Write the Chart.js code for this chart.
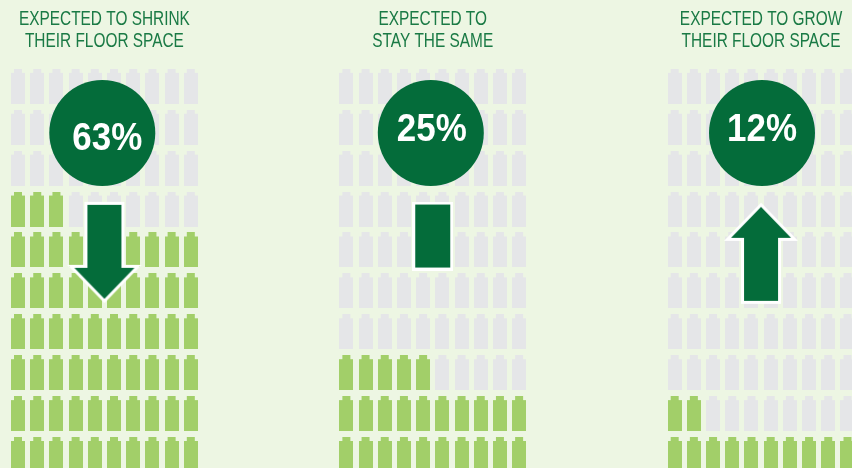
<!DOCTYPE html>
<html>
<head>
<meta charset="utf-8">
<title>Floor space expectations</title>
<script src="https://cdn.jsdelivr.net/npm/chart.js@4"></script>
<style>
  html, body { margin: 0; padding: 0; background: #edf6e3; overflow: hidden; }
  canvas { display: block; }
</style>
</head>
<body>
<canvas id="chart" width="852" height="468"></canvas>
<script>
const titles = [
  ['EXPECTED TO SHRINK', 'THEIR FLOOR SPACE'],
  ['EXPECTED TO', 'STAY THE SAME'],
  ['EXPECTED TO GROW', 'THEIR FLOOR SPACE']
];
const shares = [63, 25, 12];
const trends = ['down', 'flat', 'up'];

const COLUMNS = 10;
const ROWS = 10;
const PANEL_STEP = 17.1;   // columns from one block of icons to the next
const CIRCLE_COL = [4.39, 4.4, 4.55];
const CIRCLE_ROW = 7.86;
const LABEL_NUDGE = [[5, 3], [1, -6], [0, -6]];
const ARROW_ROW = { down: 4.93, flat: 5.34, up: 4.93 };

const DARK = '#046c3a';
const LIGHT = '#a2cf69';
const EMPTY = '#e5e6e8';
const TEXT = '#1a7a45';

function icon(color) {
  const c = document.createElement('canvas');
  c.width = 14;
  c.height = 35;
  const g = c.getContext('2d');
  g.fillStyle = color;
  g.fillRect(3, 0, 8, 4);
  g.fillRect(0, 4, 14, 31);
  return c;
}

function arrow(kind) {
  const c = document.createElement('canvas');
  const g = c.getContext('2d');
  let pts;
  if (kind === 'flat') {
    c.width = 41;
    c.height = 69;
    pts = [[3, 3], [38, 3], [38, 66], [3, 66]];
  } else {
    c.width = 76;
    c.height = 104;
    pts = [[21, 4], [55, 4], [55, 67], [68, 67], [38, 98], [8, 67], [21, 67]];
    if (kind === 'up') pts = pts.map(p => [p[0], 104 - p[1]]);
  }
  g.beginPath();
  pts.forEach((p, i) => i ? g.lineTo(p[0], p[1]) : g.moveTo(p[0], p[1]));
  g.closePath();
  g.lineJoin = 'miter';
  g.miterLimit = 10;
  g.lineWidth = 6;
  g.strokeStyle = '#ffffff';
  g.stroke();
  g.fillStyle = DARK;
  g.fill();
  return c;
}

// one point per icon, filled from the bottom row upwards
function cells(filled) {
  const on = [], off = [];
  shares.forEach((share, p) => {
    for (let i = 0; i < COLUMNS * ROWS; i++) {
      const pt = { x: p * PANEL_STEP + i % COLUMNS, y: Math.floor(i / COLUMNS) };
      (i < share ? on : off).push(pt);
    }
  });
  return filled ? on : off;
}

const circles = shares.map((s, p) => ({ x: p * PANEL_STEP + CIRCLE_COL[p], y: CIRCLE_ROW }));
const arrows = trends.map((t, p) => ({ x: p * PANEL_STEP + 4.5, y: ARROW_ROW[t] }));

const textPlugin = {
  id: 'panelText',
  afterDatasetsDraw(chart) {
    const { ctx, scales } = chart;
    ctx.save();
    ctx.textAlign = 'center';
    ctx.textBaseline = 'alphabetic';

    // no narrow face is installed, so the headings get squeezed through maxWidth
    ctx.fillStyle = TEXT;
    ctx.font = '19.5px "Liberation Sans", sans-serif';
    titles.forEach((lines, p) => {
      const cx = scales.x.getPixelForValue(p * PANEL_STEP + 4.5);
      lines.forEach((line, i) => {
        ctx.fillText(line, cx, 25 + i * 22, ctx.measureText(line).width * 0.79);
      });
    });

    ctx.fillStyle = '#ffffff';
    ctx.font = 'bold 38px "Liberation Sans", sans-serif';
    shares.forEach((s, p) => {
      const cx = scales.x.getPixelForValue(circles[p].x) + LABEL_NUDGE[p][0];
      const cy = scales.y.getPixelForValue(circles[p].y) + LABEL_NUDGE[p][1];
      ctx.fillText(s + '%', cx, cy + 14, 70);
    });
    ctx.restore();
  }
};

new Chart(document.getElementById('chart'), {
  type: 'scatter',
  data: {
    datasets: [
      { data: arrows, order: 1, pointStyle: trends.map(arrow) },
      { data: circles, order: 2, pointStyle: 'circle', pointRadius: 53, backgroundColor: DARK, borderWidth: 0 },
      { data: cells(true), order: 3, pointStyle: icon(LIGHT) },
      { data: cells(false), order: 4, pointStyle: icon(EMPTY) }
    ]
  },
  options: {
    responsive: false,
    animation: false,
    events: [],
    layout: { padding: 0, autoPadding: false },
    plugins: { legend: { display: false }, tooltip: { enabled: false } },
    scales: {
      x: { type: 'linear', display: false, min: -0.9375, max: 43.4375 },
      y: { type: 'linear', display: false, min: -0.33, max: 11.11 }
    }
  },
  plugins: [textPlugin]
});
</script>
</body>
</html>
